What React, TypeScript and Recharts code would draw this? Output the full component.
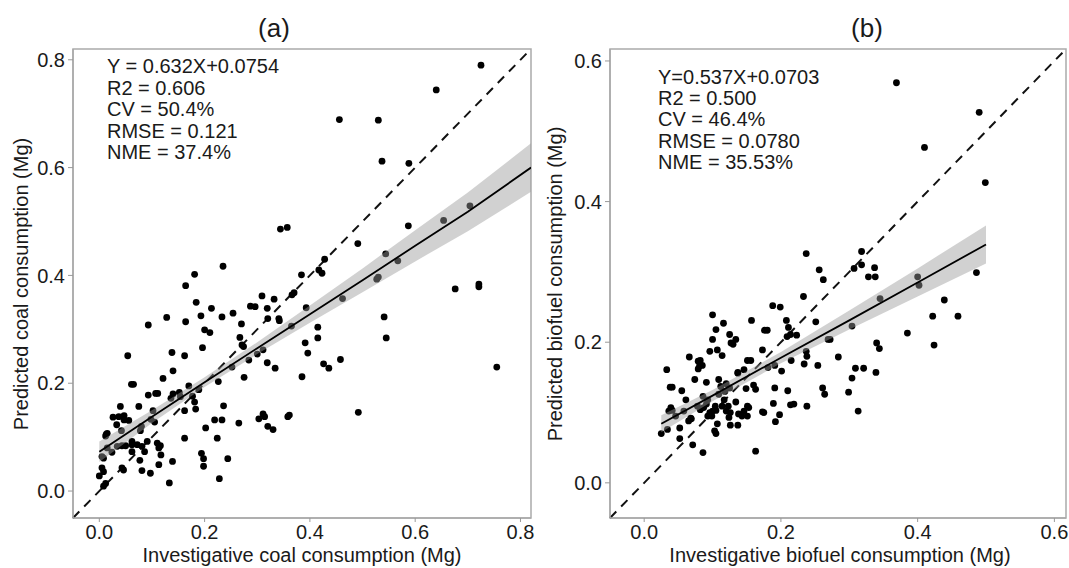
import React from 'react';
import { ComposedChart, XAxis, YAxis, Scatter, Area, Line, ReferenceLine, ReferenceArea } from 'recharts';

const FONT = '"Liberation Sans", Arial, Helvetica, sans-serif';

// panel (a): investigative vs predicted coal consumption (Mg)
const coalPoints: [number, number][] = [
  [0.725, 0.790], [0.640, 0.744], [0.456, 0.689], [0.530, 0.688], [0.537, 0.612], [0.588, 0.608],
  [0.587, 0.492], [0.491, 0.459], [0.344, 0.486], [0.357, 0.489], [0.428, 0.430], [0.417, 0.410],
  [0.423, 0.404], [0.384, 0.401], [0.544, 0.440], [0.567, 0.427], [0.530, 0.397], [0.527, 0.393],
  [0.654, 0.502], [0.704, 0.529], [0.676, 0.375], [0.721, 0.384], [0.721, 0.379], [0.755, 0.230],
  [0.541, 0.323], [0.545, 0.284], [0.492, 0.146], [0.458, 0.244], [0.426, 0.236], [0.436, 0.228],
  [0.415, 0.304], [0.415, 0.284], [0.391, 0.275], [0.396, 0.256], [0.385, 0.212], [0.393, 0.340],
  [0.462, 0.357], [0.365, 0.306],
  [0.181, 0.402], [0.164, 0.381], [0.235, 0.417], [0.184, 0.350], [0.213, 0.339], [0.233, 0.323],
  [0.254, 0.330], [0.193, 0.325], [0.128, 0.322], [0.164, 0.314], [0.093, 0.308], [0.200, 0.299],
  [0.210, 0.294], [0.270, 0.310], [0.287, 0.343], [0.296, 0.342], [0.309, 0.362], [0.332, 0.356],
  [0.319, 0.339], [0.320, 0.320], [0.341, 0.320], [0.342, 0.316], [0.366, 0.364], [0.370, 0.368],
  [0.267, 0.285], [0.271, 0.271], [0.274, 0.268], [0.196, 0.266], [0.138, 0.257], [0.162, 0.251],
  [0.054, 0.251], [0.140, 0.223], [0.121, 0.209], [0.334, 0.228], [0.319, 0.238], [0.275, 0.211],
  [0.226, 0.203], [0.284, 0.243], [0.300, 0.254], [0.311, 0.262], [0.252, 0.230],
  [0.061, 0.198], [0.065, 0.198], [0.093, 0.178], [0.107, 0.181], [0.111, 0.181], [0.075, 0.157],
  [0.040, 0.157], [0.026, 0.137], [0.037, 0.138], [0.047, 0.140], [0.047, 0.132], [0.056, 0.131],
  [0.033, 0.123], [0.015, 0.107], [0.012, 0.102], [0.042, 0.112], [0.078, 0.112], [0.091, 0.092],
  [0.102, 0.149], [0.136, 0.172], [0.140, 0.180], [0.152, 0.183], [0.154, 0.175], [0.170, 0.195],
  [0.162, 0.149], [0.181, 0.165], [0.183, 0.152], [0.177, 0.176], [0.189, 0.188], [0.162, 0.098],
  [0.202, 0.117], [0.219, 0.132], [0.233, 0.132], [0.236, 0.158], [0.224, 0.098], [0.194, 0.070],
  [0.198, 0.060], [0.198, 0.046], [0.244, 0.060], [0.228, 0.023], [0.133, 0.015], [0.139, 0.055],
  [0.265, 0.126], [0.311, 0.143], [0.314, 0.138], [0.303, 0.134], [0.320, 0.120], [0.330, 0.114],
  [0.358, 0.138], [0.361, 0.141], [0.072, 0.086], [0.081, 0.083], [0.086, 0.073], [0.062, 0.086],
  [0.062, 0.073], [0.110, 0.089], [0.116, 0.084], [0.113, 0.080], [0.117, 0.067], [0.077, 0.057],
  [0.081, 0.038], [0.097, 0.033], [0.113, 0.049], [0.043, 0.043], [0.046, 0.039], [0.000, 0.028],
  [0.005, 0.043], [0.008, 0.036], [0.012, 0.014], [0.008, 0.009], [0.005, 0.064], [0.008, 0.061],
  [0.015, 0.080], [0.024, 0.072], [0.034, 0.083], [0.043, 0.084], [0.050, 0.084], [0.062, 0.092],
  [0.080, 0.120], [0.013, 0.105], [0.098, 0.133], [0.105, 0.128],
];

// regression fit and confidence band
const coalBandX = [0, 0.1, 0.2, 0.3, 0.4, 0.5, 0.6, 0.7, 0.82];
const coalFit = [0.073, 0.138, 0.202, 0.265, 0.328, 0.391, 0.455, 0.518, 0.600];
const coalLow = [0.054, 0.126, 0.193, 0.254, 0.312, 0.369, 0.426, 0.482, 0.555];
const coalHigh = [0.092, 0.150, 0.211, 0.276, 0.344, 0.413, 0.484, 0.554, 0.645];

// panel (b): investigative vs predicted biofuel consumption (Mg)
const biofuelPoints: [number, number][] = [
  [0.237, 0.326], [0.256, 0.303], [0.262, 0.289], [0.369, 0.569], [0.490, 0.527], [0.410, 0.477],
  [0.499, 0.427], [0.318, 0.329], [0.307, 0.305], [0.318, 0.310], [0.328, 0.293], [0.338, 0.293],
  [0.337, 0.306], [0.486, 0.299], [0.400, 0.293], [0.402, 0.281], [0.439, 0.260], [0.422, 0.237],
  [0.459, 0.237], [0.385, 0.213], [0.424, 0.196], [0.340, 0.199], [0.344, 0.191], [0.284, 0.179],
  [0.309, 0.163], [0.321, 0.163], [0.304, 0.149], [0.339, 0.157], [0.299, 0.129], [0.313, 0.102],
  [0.304, 0.223], [0.345, 0.262], [0.272, 0.204],
  [0.233, 0.265], [0.251, 0.229], [0.188, 0.252], [0.199, 0.250], [0.157, 0.231], [0.176, 0.217],
  [0.180, 0.217], [0.208, 0.231], [0.211, 0.221], [0.214, 0.211], [0.209, 0.208], [0.223, 0.210],
  [0.100, 0.239], [0.116, 0.227], [0.105, 0.218], [0.125, 0.211], [0.134, 0.204], [0.127, 0.199],
  [0.130, 0.197], [0.100, 0.204], [0.096, 0.187], [0.107, 0.189], [0.114, 0.181], [0.066, 0.179],
  [0.079, 0.173], [0.082, 0.174], [0.081, 0.166], [0.079, 0.162], [0.085, 0.167], [0.033, 0.161],
  [0.173, 0.189], [0.156, 0.174], [0.151, 0.174], [0.137, 0.157], [0.191, 0.167], [0.181, 0.164],
  [0.201, 0.159], [0.254, 0.167], [0.234, 0.169], [0.238, 0.180], [0.237, 0.187], [0.215, 0.174],
  [0.269, 0.204], [0.261, 0.135], [0.264, 0.126], [0.210, 0.131], [0.214, 0.111], [0.219, 0.112],
  [0.238, 0.109], [0.189, 0.113], [0.191, 0.135], [0.173, 0.101], [0.175, 0.100], [0.198, 0.097],
  [0.192, 0.087], [0.149, 0.134], [0.160, 0.139], [0.163, 0.133],
  [0.091, 0.143], [0.109, 0.147], [0.112, 0.137], [0.120, 0.141], [0.125, 0.135], [0.137, 0.156],
  [0.146, 0.161], [0.074, 0.147], [0.055, 0.131], [0.061, 0.118], [0.038, 0.136], [0.041, 0.136],
  [0.039, 0.107], [0.041, 0.103], [0.036, 0.102], [0.046, 0.095], [0.034, 0.076], [0.025, 0.070],
  [0.052, 0.078], [0.052, 0.063], [0.065, 0.088], [0.069, 0.091], [0.071, 0.054], [0.086, 0.043],
  [0.058, 0.102], [0.078, 0.109], [0.082, 0.104], [0.087, 0.107], [0.091, 0.112], [0.096, 0.100],
  [0.093, 0.095], [0.100, 0.102], [0.099, 0.095], [0.104, 0.109], [0.105, 0.103], [0.103, 0.074],
  [0.105, 0.070], [0.107, 0.084], [0.114, 0.109], [0.117, 0.118], [0.123, 0.109], [0.120, 0.102],
  [0.126, 0.100], [0.124, 0.093], [0.126, 0.082], [0.137, 0.082], [0.134, 0.115], [0.138, 0.098],
  [0.143, 0.095], [0.146, 0.102], [0.151, 0.109], [0.153, 0.107], [0.151, 0.095], [0.163, 0.045],
  [0.068, 0.092], [0.093, 0.118], [0.109, 0.126], [0.118, 0.130], [0.086, 0.123],
];

const bioBandX = [0.025, 0.1, 0.2, 0.3, 0.4, 0.5];
const bioFit = [0.084, 0.124, 0.178, 0.231, 0.285, 0.339];
const bioLow = [0.072, 0.116, 0.170, 0.218, 0.265, 0.312];
const bioHigh = [0.096, 0.132, 0.186, 0.245, 0.305, 0.366];

const coalTicks = [0, 0.2, 0.4, 0.6, 0.8];
const bioTicks = [0, 0.2, 0.4, 0.6];

const coalStats = ['Y = 0.632X+0.0754', 'R2 = 0.606', 'CV = 50.4%', 'RMSE = 0.121', 'NME = 37.4%'];
const bioStats = ['Y=0.537X+0.0703', 'R2 = 0.500', 'CV = 46.4%', 'RMSE = 0.0780', 'NME = 35.53%'];

const Dot = (props: any) => <circle cx={props.cx} cy={props.cy} r={3.4} fill="#000" />;

type PanelProps = {
  width: number;
  marginLeft: number;
  marginRight: number;
  domain: [number, number];
  ticks: number[];
  points: [number, number][];
  bandX: number[];
  fit: number[];
  low: number[];
  high: number[];
};

const Panel = ({ width, marginLeft, marginRight, domain, ticks, points, bandX, fit, low, high }: PanelProps) => {
  const scatter = points.map(([x, y]) => ({ x, y }));
  const band = bandX.map((x, i) => ({ x, fit: fit[i], band: [low[i], high[i]] }));
  const tickStyle = { fontSize: 20, fill: '#1a1a1a', fontFamily: FONT };
  return (
    <ComposedChart
      width={width}
      height={568}
      data={band}
      margin={{ top: 49, right: marginRight, bottom: 0, left: marginLeft }}
    >
      <XAxis
        dataKey="x"
        type="number"
        domain={domain}
        allowDataOverflow
        ticks={ticks}
        tickFormatter={(v: number) => v.toFixed(1)}
        tick={tickStyle}
        tickSize={4}
        tickMargin={3}
        tickLine={{ stroke: '#999' }}
        axisLine={{ stroke: '#aaa', strokeWidth: 1.5 }}
        height={50}
      />
      <YAxis
        type="number"
        domain={domain}
        allowDataOverflow
        ticks={ticks}
        tickFormatter={(v: number) => v.toFixed(1)}
        tick={tickStyle}
        tickSize={5}
        tickMargin={3}
        tickLine={{ stroke: '#999' }}
        axisLine={{ stroke: '#aaa', strokeWidth: 1.5 }}
        width={60}
      />
      <ReferenceArea
        x1={domain[0]}
        x2={domain[1]}
        y1={domain[0]}
        y2={domain[1]}
        fill="none"
        fillOpacity={0}
        stroke="#aaa"
        strokeWidth={1.5}
      />
      <ReferenceLine
        segment={[{ x: domain[0], y: domain[0] }, { x: domain[1], y: domain[1] }]}
        stroke="#111"
        strokeWidth={2}
        strokeDasharray="9 7"
      />
      <Scatter data={scatter} dataKey="y" shape={Dot} isAnimationActive={false} zIndex={600} />
      <Area
        dataKey="band"
        type="linear"
        stroke="none"
        fill="#999"
        fillOpacity={0.45}
        activeDot={false}
        isAnimationActive={false}
        zIndex={700}
      />
      <Line
        dataKey="fit"
        type="linear"
        stroke="#000"
        strokeWidth={1.8}
        dot={false}
        activeDot={false}
        isAnimationActive={false}
        zIndex={800}
      />
    </ComposedChart>
  );
};

export default function App() {
  const txt = { fontFamily: FONT, fill: '#1a1a1a' };
  return (
    <div style={{ position: 'absolute', left: 0, top: 0, width: 1069, height: 568, background: '#fff' }}>
      <div style={{ position: 'absolute', left: 0, top: 0 }}>
        <Panel
          width={540}
          marginLeft={13}
          marginRight={9}
          domain={[-0.05, 0.82]}
          ticks={coalTicks}
          points={coalPoints}
          bandX={coalBandX}
          fit={coalFit}
          low={coalLow}
          high={coalHigh}
        />
      </div>
      <div style={{ position: 'absolute', left: 540, top: 0 }}>
        <Panel
          width={529}
          marginLeft={10}
          marginRight={3}
          domain={[-0.05, 0.617]}
          ticks={bioTicks}
          points={biofuelPoints}
          bandX={bioBandX}
          fit={bioFit}
          low={bioLow}
          high={bioHigh}
        />
      </div>
      <svg
        width={1069}
        height={568}
        style={{ position: 'absolute', left: 0, top: 0, pointerEvents: 'none' }}
      >
        <text x={274} y={37} textAnchor="middle" fontSize={26} {...txt}>(a)</text>
        <text x={867} y={37} textAnchor="middle" fontSize={26} {...txt}>(b)</text>
        {coalStats.map((s, i) => (
          <text key={s} x={107} y={73 + i * 21.5} fontSize={20} {...txt}>{s}</text>
        ))}
        {bioStats.map((s, i) => (
          <text key={s} x={658} y={84 + i * 21.2} fontSize={20} {...txt}>{s}</text>
        ))}
        <text x={302} y={562} textAnchor="middle" fontSize={20} {...txt}>
          Investigative coal consumption (Mg)
        </text>
        <text x={840} y={562} textAnchor="middle" fontSize={20} {...txt}>
          Investigative biofuel consumption (Mg)
        </text>
        <text transform="translate(28,284) rotate(-90)" textAnchor="middle" fontSize={20} {...txt}>
          Predicted coal consumption (Mg)
        </text>
        <text transform="translate(562,284) rotate(-90)" textAnchor="middle" fontSize={20} {...txt}>
          Predicted biofuel consumption (Mg)
        </text>
      </svg>
    </div>
  );
}
